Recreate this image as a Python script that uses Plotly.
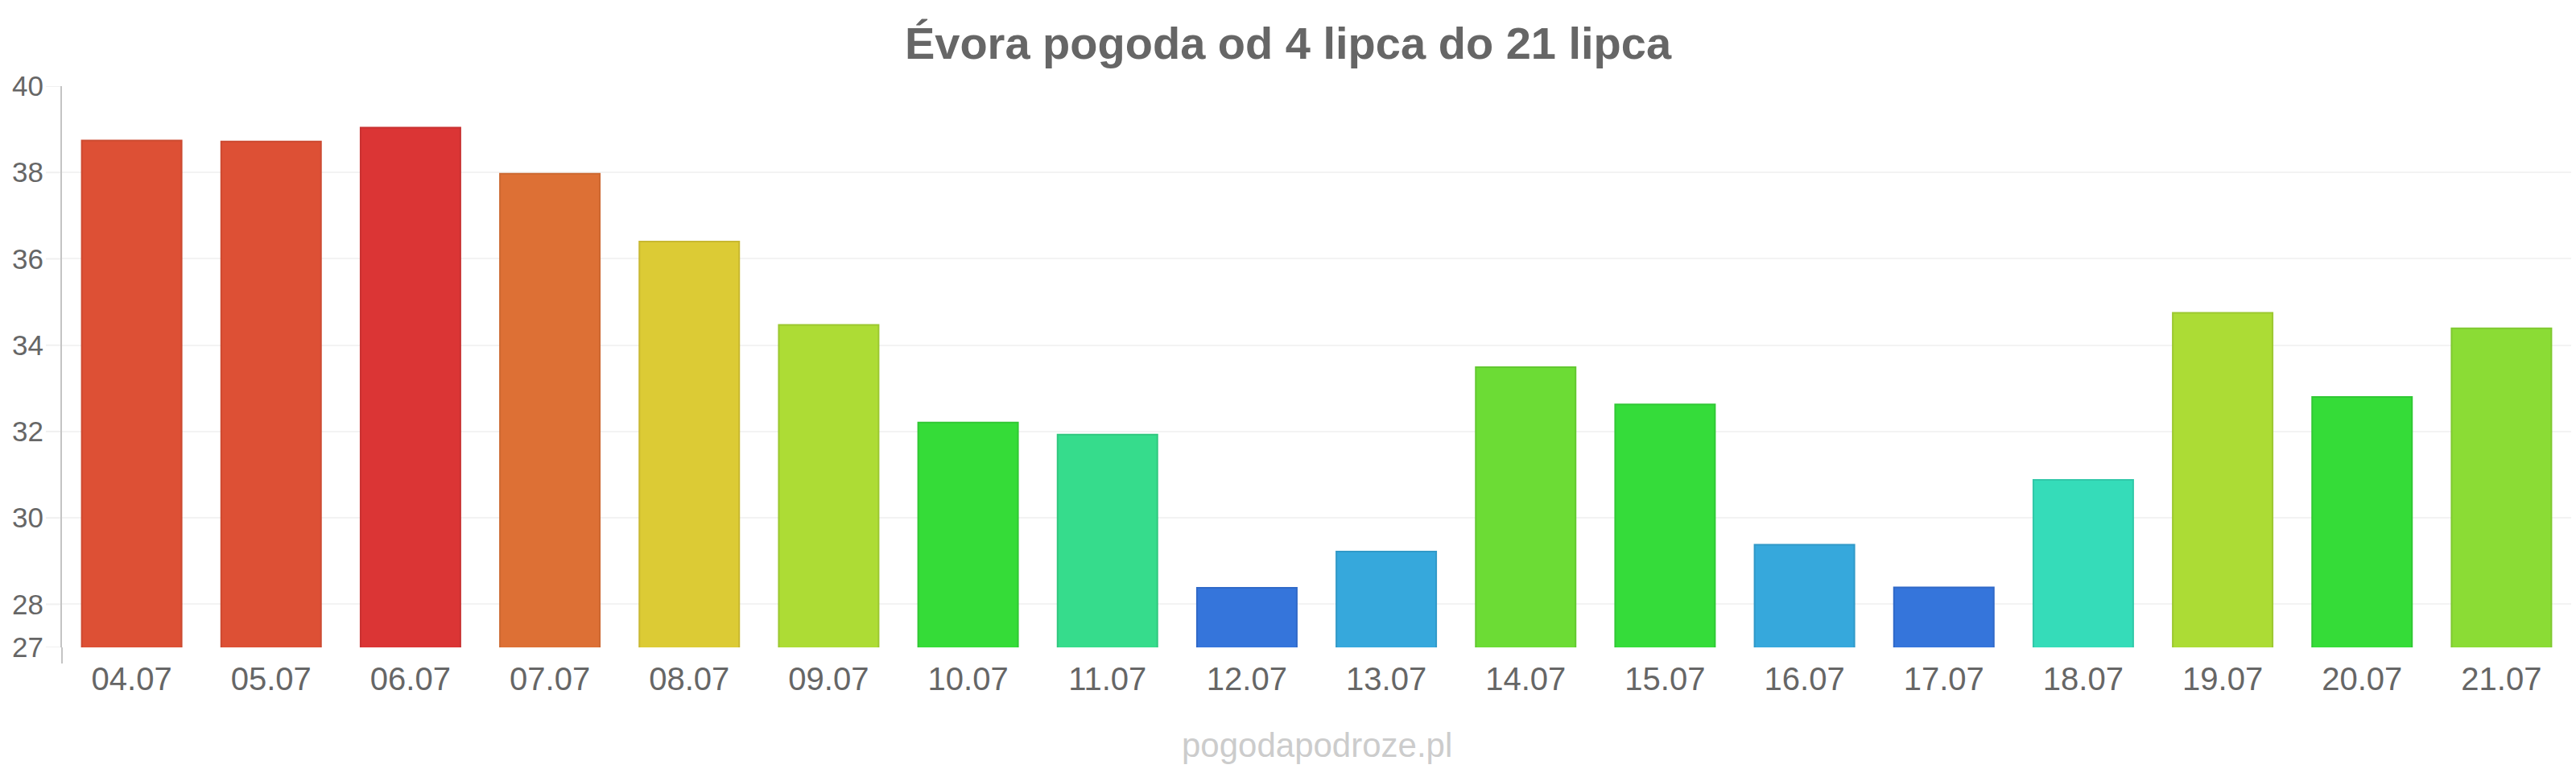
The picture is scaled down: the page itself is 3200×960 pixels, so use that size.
import plotly.graph_objects as go

categories = ["04.07", "05.07", "06.07", "07.07", "08.07", "09.07", "10.07", "11.07", "12.07",
              "13.07", "14.07", "15.07", "16.07", "17.07", "18.07", "19.07", "20.07", "21.07"]
temps = [38.74, 38.72, 39.04, 37.97, 36.40, 34.47, 32.21, 31.93, 28.38,
         29.22, 33.49, 32.63, 29.38, 28.39, 30.88, 34.75, 32.80, 34.39]
bar_colors = ["#dd5035", "#dd5035", "#db3535", "#dd7035", "#dccb35", "#addc35", "#35dc38", "#36dc8c", "#3575db",
              "#36a8dc", "#6cdc35", "#35dc3a", "#36a8dc", "#3575db", "#35dcb9", "#acdc35", "#35dc38", "#8bdc35"]
border_colors = ["#cc4a31", "#cc4a31", "#c93131", "#cc6831", "#c8b830", "#9cc830", "#30c833", "#31c87f", "#3069c8",
                 "#3199c8", "#62c830", "#30c835", "#3199c8", "#3069c8", "#30c8a8", "#9cc830", "#30c833", "#7fc830"]
y_ticks = [27, 28, 30, 32, 34, 36, 38, 40]
title_text = "Évora pogoda od 4 lipca do 21 lipca"
watermark = "pogodapodroze.pl"

W, H = 3200, 960
L, R, T, B = 77, 6, 107, 156
plot_h = H - T - B
plot_w = W - L - R

fig = go.Figure()
fig.add_trace(go.Bar(
    x=categories, y=temps,
    marker=dict(color=bar_colors, line=dict(color=border_colors, width=2)),
    hoverinfo="x+y",
))

shapes = [dict(type="line", xref="paper", yref="paper", x0=0, x1=0, y0=0, y1=-20 / plot_h,
               line=dict(color="#c4c4c4", width=2))]
for v in y_ticks:
    shapes.append(dict(type="line", xref="paper", yref="y", x0=-20 / plot_w, x1=0, y0=v, y1=v,
                       line=dict(color="#f0f0f0", width=2), layer="below"))

fig.update_layout(
    width=W, height=H,
    margin=dict(l=L, r=R, t=T, b=B, pad=0),
    paper_bgcolor="white", plot_bgcolor="white",
    bargap=0.284,
    showlegend=False,
    font=dict(family="Liberation Sans, Arial, sans-serif", color="#666666"),
    title=dict(text=title_text, x=0.5, xanchor="center", y=1 - 53 / H, yanchor="middle",
               font=dict(size=56, color="#666666", family="Liberation Sans, Arial, sans-serif", weight="bold")),
    xaxis=dict(showgrid=False, zeroline=False, showline=False, ticks="",
               tickfont=dict(size=40, color="#666666"), ticklabelstandoff=12,
               fixedrange=True),
    yaxis=dict(range=[27, 40], tickvals=y_ticks, ticktext=[str(v) for v in y_ticks],
               showgrid=True, gridcolor="#f3f3f3", gridwidth=2, zeroline=False,
               showline=True, linecolor="#c4c4c4", linewidth=2, ticks="",
               tickfont=dict(size=35, color="#666666"), ticklabelstandoff=14,
               fixedrange=True),
    annotations=[dict(text=watermark, xref="paper", yref="paper", x=0.5, y=(plot_h - (925 - T)) / plot_h,
                      xanchor="center", yanchor="middle", showarrow=False,
                      font=dict(size=42, color="#cccccc", family="Liberation Sans, Arial, sans-serif"))],
    shapes=shapes,
)

fig.write_html("out.html")
